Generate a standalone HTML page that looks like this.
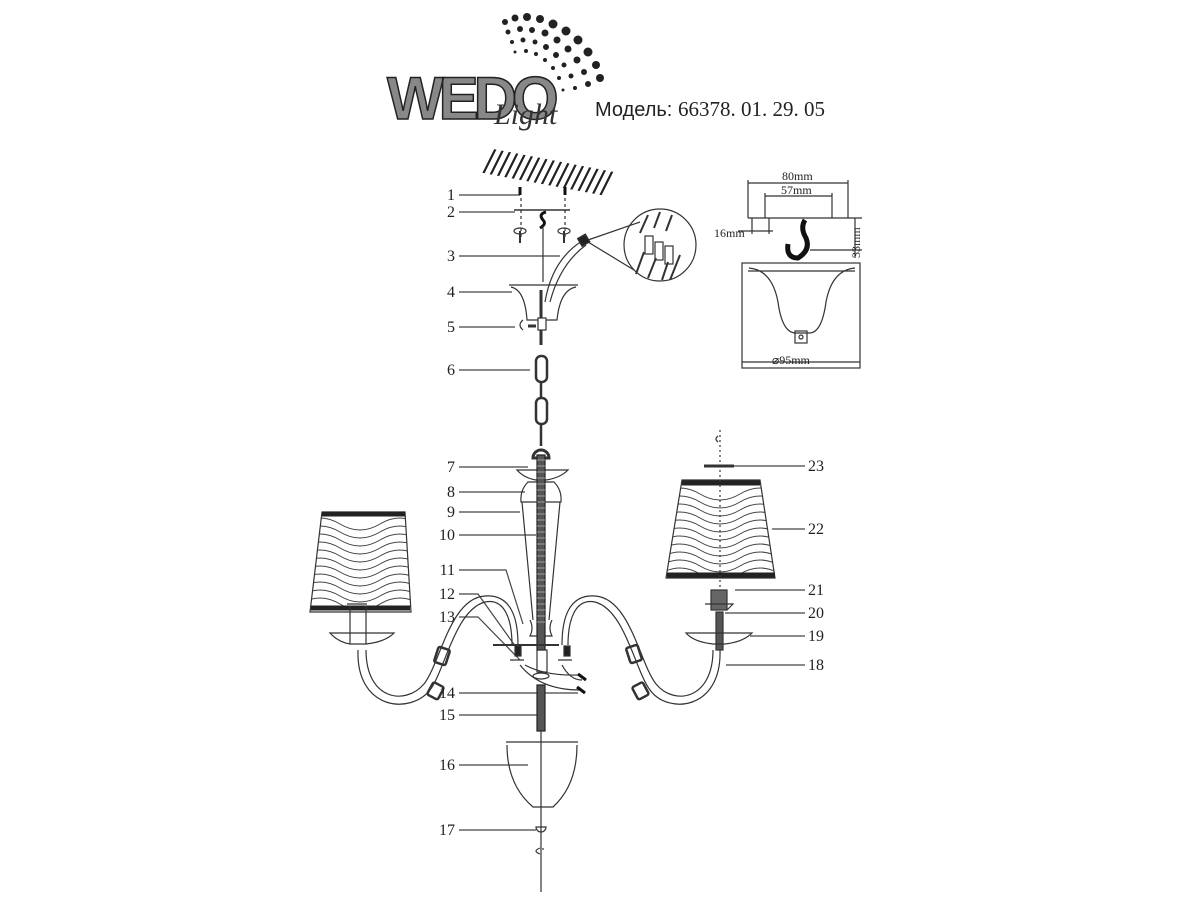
<!DOCTYPE html>
<html><head><meta charset="utf-8"><style>
html,body{margin:0;padding:0;background:#fff;}
svg{display:block}
text{font-family:"Liberation Serif",serif;font-size:16px;fill:#222}
</style></head><body>
<svg width="1200" height="900" viewBox="0 0 1200 900" xmlns="http://www.w3.org/2000/svg">
<defs>
<clipPath id="shL"><polygon points="322,512 405,512 411,612 310,612"/></clipPath>
<clipPath id="shR"><polygon points="682,480 760,480 775,578 666,578"/></clipPath>
<clipPath id="hatch"><polygon points="488,148 614,172 606,196 478,172"/></clipPath>
</defs>
<!-- logo -->
<g>
<text x="387" y="119" style="font-family:'Liberation Sans',sans-serif;font-weight:bold;font-size:60px;fill:#888;stroke:#222;stroke-width:1.5;letter-spacing:-5px">WEDO</text>
<text x="494" y="124" style="font-family:'Liberation Serif',serif;font-style:italic;font-size:30px;fill:#333">Light</text>
<g fill="#222">
<circle cx="505" cy="22" r="3"/><circle cx="515" cy="18" r="3.5"/><circle cx="527" cy="17" r="4"/><circle cx="540" cy="19" r="4"/><circle cx="553" cy="24" r="4.5"/><circle cx="566" cy="31" r="4.5"/><circle cx="578" cy="40" r="4.5"/><circle cx="588" cy="52" r="4.5"/><circle cx="596" cy="65" r="4"/><circle cx="600" cy="78" r="4"/>
<circle cx="508" cy="32" r="2.5"/><circle cx="520" cy="29" r="3"/><circle cx="532" cy="30" r="3"/><circle cx="545" cy="33" r="3.5"/><circle cx="557" cy="40" r="3.5"/><circle cx="568" cy="49" r="3.5"/><circle cx="577" cy="60" r="3.5"/><circle cx="584" cy="72" r="3"/><circle cx="588" cy="84" r="3"/>
<circle cx="512" cy="42" r="2"/><circle cx="523" cy="40" r="2.5"/><circle cx="535" cy="42" r="2.5"/><circle cx="546" cy="47" r="3"/><circle cx="556" cy="55" r="3"/><circle cx="564" cy="65" r="2.5"/><circle cx="571" cy="76" r="2.5"/><circle cx="575" cy="88" r="2"/>
<circle cx="515" cy="52" r="1.5"/><circle cx="526" cy="51" r="2"/><circle cx="536" cy="54" r="2"/><circle cx="545" cy="60" r="2"/><circle cx="553" cy="68" r="2"/><circle cx="559" cy="78" r="2"/><circle cx="563" cy="90" r="1.5"/>
</g>
<text x="595" y="116" style="font-family:'Liberation Sans',sans-serif;font-size:20px;fill:#222">Модель:</text>
<text x="678" y="116" style="font-family:'Liberation Serif',serif;font-size:21px;fill:#222">66378. 01. 29. 05</text>
</g>
<g stroke="#333" fill="none" stroke-width="1.2">
<g clip-path="url(#hatch)" stroke="#222" stroke-width="2.2">
<path d="M470,200 l30,-60 M478,200 l30,-60 M486,200 l30,-60 M494,200 l30,-60 M502,200 l30,-60 M510,200 l30,-60 M518,200 l30,-60 M526,200 l30,-60 M534,200 l30,-60 M542,200 l30,-60 M550,200 l30,-60 M558,200 l30,-60 M566,200 l30,-60 M574,200 l30,-60 M582,200 l30,-60 M590,200 l30,-60 M598,200 l30,-60 M606,200 l30,-60"/>
</g>
<path d="M459,195H520 M459,212H515 M459,256H560 M459,292H512 M459,327H515 M459,370H530 M459,467H528 M459,492H525 M459,512H520 M459,535H536 M459,570H506 L523,624 M459,594H478 L518,650 M459,617H478 L520,660 M459,693H578 M459,715H537 M459,765H528 M459,830H536" stroke="#444"/>
<path d="M725,466H805 M772,529H805 M735,590H805 M725,613H805 M750,636H805 M726,665H805" stroke="#444"/>
<path d="M514,210H570" stroke-width="1.5"/>
<path d="M546,212 q-8,2 -3,8 q4,4 -3,8" stroke-width="3" stroke="#111"/>
<path d="M521,198V240 M565,198V240" stroke-dasharray="3,3"/>
<path d="M520,187v8 M565,187v8" stroke-width="3" stroke="#111"/>
<ellipse cx="520" cy="231" rx="6" ry="3"/><ellipse cx="564" cy="231" rx="6" ry="3"/>
<path d="M520,231v12 M564,231v12" stroke-width="2"/>
<path d="M543,226V282"/>
<path d="M545,302 Q552,260 582,241 M550,302 Q560,264 586,245"/>
<rect x="579" y="236" width="9" height="9" fill="#222" transform="rotate(-30 583 240)"/>
<path d="M588,240 L640,222 M588,242 L634,270"/>
<circle cx="660" cy="245" r="36"/>
<path d="M648,215l-8,18 M660,212l-6,16 M672,215l-6,16 M644,252l-8,22 M656,258l-8,20 M668,262l-6,18 M680,255l-10,25" stroke-width="2"/>
<rect x="645" y="236" width="8" height="18"/><rect x="655" y="242" width="8" height="18"/><rect x="665" y="246" width="8" height="18"/>
<path d="M509,285H578 M511,287 Q525,290 527,320 H557 Q560,290 576,287"/>
<path d="M541,290V345" stroke-width="3"/>
<rect x="538" y="318" width="8" height="12" fill="#fff"/>
<path d="M523,320 q-6,5 0,10"/><path d="M528,326h8" stroke-width="3"/>
<rect x="536" y="356" width="11" height="26" rx="5" stroke-width="2.5"/>
<path d="M541,382V398" stroke-width="2.5"/>
<rect x="536" y="398" width="11" height="26" rx="5" stroke-width="2.5"/>
<path d="M541,424V446" stroke-width="2.5"/>
<path d="M533,458 a8,8 0 0 1 16,0 z" stroke-width="3"/>
<path d="M517,470 H568 Q560,478 546,480 H536 Q524,478 517,470Z"/>
<path d="M528,482 Q520,490 521,502 H561 Q562,490 554,482Z"/>
<path d="M522,502 L533,620 M560,502 L549,620"/>
<path d="M530,620 q4,8 0,16 h22 q-4,-8 0,-16"/>
<rect x="537" y="455" width="8" height="195" fill="#555" stroke="#222"/>
<path d="M537,460h8 M537,466h8 M537,472h8 M537,478h8 M537,484h8 M537,490h8 M537,496h8 M537,502h8 M537,508h8 M537,514h8 M537,520h8 M537,526h8 M537,532h8 M537,538h8 M537,544h8 M537,550h8 M537,556h8 M537,562h8 M537,568h8 M537,574h8 M537,580h8 M537,586h8 M537,592h8 M537,598h8 M537,604h8 M537,610h8 M537,616h8 M537,622h8" stroke="#bbb" stroke-width="0.8"/>
<path d="M493,645H559" stroke-width="2"/>
<rect x="537" y="650" width="10" height="22"/>
<rect x="515" y="646" width="6" height="10" fill="#222"/><rect x="564" y="646" width="6" height="10" fill="#222"/>
<path d="M510,660h14 M558,660h14"/>
<path d="M520,665 Q540,690 580,690 M562,665 Q570,680 582,680 M525,665 Q545,676 578,675"/>
<path d="M577,687l8,6 M578,674l8,6" stroke-width="3" stroke="#111"/>
<ellipse cx="541" cy="676" rx="8" ry="3"/>
<rect x="537" y="685" width="8" height="46" fill="#555" stroke="#222"/>
<path d="M541,731V892"/>
<path d="M506,742H578 M507,745 Q507,785 533,807 H553 Q577,785 577,745"/>
<path d="M536,827 a5,5 0 0 0 10,0z"/>
<path d="M540,848 q-8,3 0,6 M543,848v2"/>
<path d="M358,650 C356,710 410,715 430,690 C445,670 455,610 485,602 C505,598 512,620 512,645"/>
<path d="M366,650 C366,700 405,706 424,684 C440,664 450,598 485,596 C512,594 518,620 518,645"/>
<rect x="436" y="648" width="12" height="16" rx="2" stroke-width="2.5" transform="rotate(18 442 656)"/>
<rect x="430" y="684" width="12" height="14" rx="2" stroke-width="2.5" transform="rotate(28 436 690)"/>
<path d="M720,650 C722,710 668,715 650,690 C635,670 625,610 595,602 C575,598 568,620 568,645"/>
<path d="M713,650 C713,700 674,706 656,684 C640,664 630,598 595,596 C568,594 562,620 562,645"/>
<rect x="628" y="646" width="12" height="16" rx="2" stroke-width="2.5" transform="rotate(-18 634 654)"/>
<rect x="634" y="684" width="12" height="14" rx="2" stroke-width="2.5" transform="rotate(-28 640 690)"/>
<g clip-path="url(#shL)" stroke="#444" stroke-width="1">
<path d="M300,524 q20,-12 40,0 t40,0 t40,0 M300,532 q20,-12 40,0 t40,0 t40,0 M300,540 q20,-12 40,0 t40,0 t40,0 M300,548 q20,-12 40,0 t40,0 t40,0 M300,556 q20,-12 40,0 t40,0 t40,0 M300,564 q20,-12 40,0 t40,0 t40,0 M300,572 q20,-12 40,0 t40,0 t40,0 M300,580 q20,-12 40,0 t40,0 t40,0 M300,588 q20,-12 40,0 t40,0 t40,0 M300,596 q20,-12 40,0 t40,0 t40,0 M300,604 q20,-12 40,0 t40,0 t40,0"/>
</g>
<polygon points="322,512 405,512 411,612 310,612"/>
<path d="M322,514H405 M311,608H410" stroke="#222" stroke-width="5"/>
<path d="M330,633 H394 Q385,642 366,644 H350 Q338,642 330,633Z"/>
<path d="M347,604h20 M350,606V644 M366,606V644"/>
<g clip-path="url(#shR)" stroke="#444" stroke-width="1">
<path d="M660,494 q20,-12 40,0 t40,0 t40,0 M660,502 q20,-12 40,0 t40,0 t40,0 M660,510 q20,-12 40,0 t40,0 t40,0 M660,518 q20,-12 40,0 t40,0 t40,0 M660,526 q20,-12 40,0 t40,0 t40,0 M660,534 q20,-12 40,0 t40,0 t40,0 M660,542 q20,-12 40,0 t40,0 t40,0 M660,550 q20,-12 40,0 t40,0 t40,0 M660,558 q20,-12 40,0 t40,0 t40,0 M660,566 q20,-12 40,0 t40,0 t40,0 M660,574 q20,-12 40,0 t40,0 t40,0"/>
</g>
<polygon points="682,480 760,480 775,578 666,578"/>
<path d="M682,483H760 M667,575H775" stroke="#222" stroke-width="5"/>
<path d="M720,430V590" stroke-dasharray="2,3"/>
<path d="M704,466h30" stroke-width="3"/>
<path d="M718,436 q-4,3 0,6"/>
<rect x="711" y="590" width="16" height="20" fill="#666"/>
<path d="M705,604h28 l-6,6"/>
<rect x="716" y="612" width="7" height="38" fill="#555"/>
<path d="M686,633 H752 Q743,642 725,644 H713 Q694,642 686,633Z"/>
<path d="M748,183H848 M748,180V218 M848,180V218 M765,196H832 M765,193V218 M832,193V218 M748,218H862 M738,231H773 M752,218V234 M769,218V234 M810,250H862 M855,218V258"/>
<path d="M805,220 Q800,228 806,238 Q811,250 798,258 Q786,258 788,244" stroke-width="5" stroke="#111"/>
<rect x="742" y="263" width="118" height="105"/>
<path d="M748,271H855 M749,268 Q772,270 778,302 Q782,332 795,333 H810 Q822,332 826,302 Q832,270 855,268"/>
<rect x="795" y="331" width="12" height="12"/><circle cx="801" cy="337" r="2"/>
<path d="M742,362H860"/>
</g>
<g style="font-size:12px">
<text x="782" y="180" style="font-size:12px">80mm</text>
<text x="781" y="194" style="font-size:12px">57mm</text>
<text x="714" y="237" style="font-size:12px">16mm</text>
<text x="772" y="364" style="font-size:12px">⌀95mm</text>
<text x="0" y="0" transform="translate(860,258) rotate(-90)" style="font-size:12px">33mm</text>
</g>
<g text-anchor="end">
<text x="455" y="200">1</text><text x="455" y="217">2</text><text x="455" y="261">3</text><text x="455" y="297">4</text><text x="455" y="332">5</text><text x="455" y="375">6</text>
<text x="455" y="472">7</text><text x="455" y="497">8</text><text x="455" y="517">9</text><text x="455" y="540">10</text><text x="455" y="575">11</text><text x="455" y="599">12</text><text x="455" y="622">13</text><text x="455" y="698">14</text><text x="455" y="720">15</text><text x="455" y="770">16</text><text x="455" y="835">17</text>
</g>
<g>
<text x="808" y="471">23</text><text x="808" y="534">22</text><text x="808" y="595">21</text><text x="808" y="618">20</text><text x="808" y="641">19</text><text x="808" y="670">18</text>
</g>
</svg>
</body></html>
